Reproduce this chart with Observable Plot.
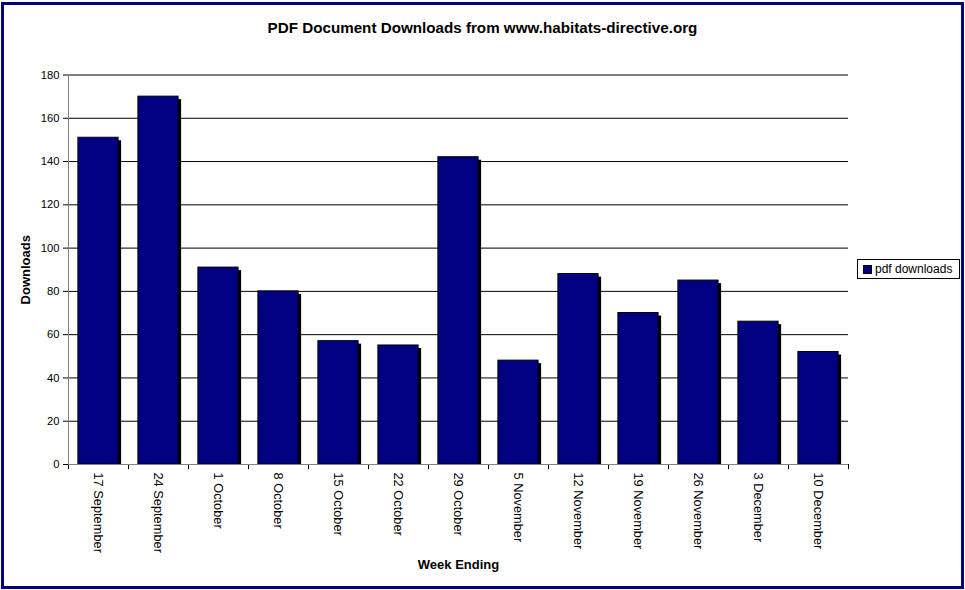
<!DOCTYPE html>
<html>
<head>
<meta charset="utf-8">
<script src="https://cdn.jsdelivr.net/npm/d3@7"></script>
<script src="https://cdn.jsdelivr.net/npm/@observablehq/plot@0.6"></script>
<style>
  html, body { margin: 0; padding: 0; background: #fff; }
  #wrap { position: relative; width: 965px; height: 590px; font-family: "Liberation Sans", Arial, sans-serif; }
  #frame { position: absolute; left: 1px; top: 2px; width: 963px; height: 587px; box-sizing: border-box; border: 3px solid #000080; pointer-events: none; }
  #title { position: absolute; left: 0; width: 965px; top: 19px; text-align: center; font-weight: bold; font-size: 15.2px; line-height: 18px; color: #000; }
  #legend { position: absolute; left: 857px; top: 259px; width: 103px; height: 20px; box-sizing: border-box; border: 1px solid #000; font-size: 12px; display: flex; align-items: center; padding-left: 5px; background: #fff; }
  #legend .sw { width: 7px; height: 7px; background: #000080; border: 1px solid #000; margin-right: 3px; }
  #chart { position: absolute; left: 0; top: 0; }
</style>
</head>
<body>
<div id="wrap">
  <div id="chart"></div>
  <div id="title">PDF Document Downloads from www.habitats-directive.org</div>
  <div id="legend"><span class="sw"></span><span>pdf downloads</span></div>
  <div id="frame"></div>
</div>
<script>
const weeks = ["17 September", "24 September", "1 October", "8 October", "15 October", "22 October", "29 October", "5 November", "12 November", "19 November", "26 November", "3 December", "10 December"];
const downloads = [151, 170, 91, 80, 57, 55, 142, 48, 88, 70, 85, 66, 52];
const yTicks = [0, 20, 40, 60, 80, 100, 120, 140, 160, 180];
const seriesName = "pdf downloads";

const data = weeks.map((w, i) => ({week: w, value: downloads[i]}));
const mL = 68, mR = 117;
const step = (965 - mL - mR) / weeks.length;

const chart = Plot.plot({
  width: 965,
  height: 590,
  marginLeft: mL,
  marginRight: mR,
  marginTop: 74.5,
  marginBottom: 126,
  style: {fontFamily: "'Liberation Sans', Arial, sans-serif", fontSize: "12px", color: "#000", background: "transparent"},
  x: {type: "band", domain: weeks, paddingInner: 0.33, paddingOuter: 0.165, round: false},
  y: {domain: [0, 180]},
  marks: [
    Plot.ruleY(yTicks.filter(d => d > 0), {stroke: "#000", strokeWidth: 1}),
    Plot.barY(data, {x: "week", y: "value", fill: "#000", dx: 3, dy: 3, insetBottom: 3}),
    Plot.barY(data, {x: "week", y: "value", fill: "#000080", stroke: "#000", strokeWidth: 1}),
    Plot.ruleX([weeks[0]], {x: d => d, dx: -step / 2, y1: 0, y2: 180, stroke: "#808080"}),
    Plot.ruleX(weeks, {x: d => d, dx: -step / 2, y1: 0, y2: -2.4, stroke: "#000"}),
    Plot.ruleX([weeks[weeks.length - 1]], {x: d => d, dx: step / 2, y1: 0, y2: -2.4, stroke: "#000"}),
    Plot.ruleY([0], {stroke: "#808080"}),
    Plot.axisY({ticks: yTicks, tickSize: 5, tickPadding: 4, fontSize: 11.2, label: "Downloads", labelAnchor: "center", labelArrow: "none", labelOffset: 48}),
    Plot.axisX({tickSize: 0, tickPadding: 8, tickRotate: 90, fontSize: 12.8, label: "Week Ending", labelAnchor: "center", labelArrow: "none", labelOffset: 104})
  ]
});
document.getElementById("chart").appendChild(chart);
// bold axis titles
chart.querySelectorAll("[aria-label='x-axis label'], [aria-label='y-axis label']").forEach(g => {
  g.setAttribute("font-weight", "bold");
  g.setAttribute("font-size", "13");
  g.querySelectorAll("text").forEach(t => { t.setAttribute("font-weight", "bold"); t.setAttribute("font-size", "13"); });
});
</script>
</body>
</html>
